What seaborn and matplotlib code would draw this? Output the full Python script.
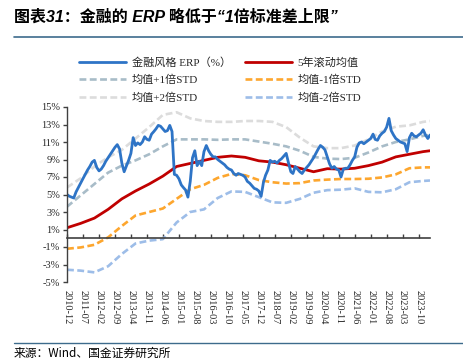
import numpy as np
import pandas as pd
import matplotlib
matplotlib.use("Agg")
import matplotlib.pyplot as plt
import seaborn as sns

# 金融风格 ERP (%)，月度，2010-12 起
erp = [5.0, 4.8, 4.7, 4.6, 5.3, 5.8, 6.3, 6.8, 7.3, 7.8,
       8.2, 8.7, 8.9, 8.1, 7.7, 7.9, 8.3, 8.8, 9.2, 9.6,
       10.0, 10.4, 10.7, 10.2, 8.6, 7.6, 8.3, 8.9, 9.7, 11.5,
       10.6, 10.9, 10.7, 11.0, 11.6, 11.3, 11.2, 11.9, 12.2, 12.5,
       12.9, 12.8, 12.5, 12.2, 12.3, 12.9, 12.2, 7.3, 7.2, 6.8,
       6.1, 5.8, 5.5, 4.7, 6.5, 9.2, 10.0, 8.3, 8.8, 8.3,
       9.9, 10.6, 10.0, 9.6, 9.3, 9.3, 9.0, 8.8, 8.6, 8.4,
       8.1, 7.9, 7.8, 7.4, 7.2, 7.4, 7.3, 7.2, 7.0, 6.5,
       6.3, 6.0, 5.7, 5.6, 5.4, 4.8, 6.4, 7.2, 7.8, 8.9,
       8.7, 8.8, 8.6, 8.9, 9.1, 9.4, 9.7, 8.6, 7.6, 7.4,
       8.2, 7.9, 7.6, 7.4, 7.8, 8.1, 8.4, 8.8, 9.2, 9.7,
       10.2, 10.6, 10.4, 10.1, 9.3, 8.5, 8.0, 8.2, 7.9, 7.8,
       7.0, 7.9, 8.0, 8.0, 8.4, 8.9, 9.3, 10.4, 10.9, 11.0,
       10.8, 11.0, 11.2, 11.4, 11.9, 11.3, 11.2, 11.7, 12.0, 12.2,
       12.7, 13.7, 12.3, 11.8, 11.4, 11.2, 11.0, 10.9, 10.8, 9.9,
       11.5, 12.0, 11.7, 11.6, 11.8, 12.0, 12.4, 11.8, 11.4, 11.8]
erp_dates = pd.date_range("2010-12-01", periods=len(erp), freq="MS")

band_dates = pd.to_datetime([
    "2010-12", "2011-06", "2011-12", "2012-06", "2012-12", "2013-06", "2013-12",
    "2014-06", "2014-12", "2015-06", "2015-12", "2016-06", "2016-12", "2017-06",
    "2017-12", "2018-06", "2018-12", "2019-06", "2019-12", "2020-06", "2020-12",
    "2021-06", "2021-12", "2022-06", "2022-12", "2023-06", "2023-12", "2024-03"])
mean5y = [1.2, 1.7, 2.3, 3.3, 4.5, 5.4, 6.2, 7.1, 8.2, 8.55, 8.9, 9.25, 9.4, 9.25,
          8.85, 8.7, 8.4, 8.0, 7.6, 7.95, 7.9, 8.0, 8.3, 8.7, 9.3, 9.6, 9.9, 10.0]
plus1 = [3.6, 4.9, 6.2, 7.5, 8.3, 8.9, 9.6, 10.5, 11.3, 11.3, 11.3, 11.25, 11.3, 11.3,
         11.05, 10.8, 10.5, 10.0, 9.3, 9.1, 9.05, 9.2, 9.8, 10.5, 11.0, 11.3, 11.7, 11.8]
minus1 = [-1.2, -1.05, -0.75, 0.1, 1.4, 2.6, 3.0, 3.4, 4.5, 5.6, 6.1, 6.9, 7.35, 7.2,
          6.65, 6.4, 6.25, 6.3, 6.6, 6.7, 6.77, 6.77, 6.8, 6.95, 7.3, 8.0, 8.1, 8.1]
plus2 = [5.8, 6.85, 8.2, 9.25, 10.1, 11.4, 12.7, 14.1, 14.4, 13.7, 13.4, 13.3, 13.3, 13.4,
         13.4, 13.3, 12.7, 11.5, 10.5, 10.3, 10.3, 10.6, 11.3, 12.2, 12.75, 12.9, 13.3, 13.4]
minus2 = [-3.6, -3.7, -3.9, -3.2, -1.8, -0.6, -0.27, -0.1, 1.8, 3.0, 3.3, 4.6, 5.35, 5.3,
          4.7, 4.1, 4.05, 4.5, 5.2, 5.5, 5.55, 5.7, 5.3, 5.25, 5.6, 6.4, 6.55, 6.6]

yticks = list(range(-5, 16, 2))
xtick_dates = pd.date_range("2010-12-01", "2023-10-01", freq="7MS")

sns.set_theme(style="white")
serif = ["Liberation Serif", "Noto Sans CJK SC"]
plt.rcParams["font.family"] = serif

fig = plt.figure(figsize=(4.64, 3.63), dpi=100)
ax = fig.add_axes([67 / 464, 1 - 282 / 363, (430 - 67) / 464, (282 - 107) / 363])

dash = (2.6, 1.3)
sns.lineplot(x=band_dates, y=plus2, ax=ax, color="#dcdcdc", lw=1.9,
             label="均值+2倍STD").lines[-1].set_dashes(dash)
sns.lineplot(x=band_dates, y=plus1, ax=ax, color="#a8bcc8", lw=1.9,
             label="均值+1倍STD").lines[-1].set_dashes(dash)
sns.lineplot(x=band_dates, y=minus2, ax=ax, color="#9dbde8", lw=1.9,
             label="均值-2倍STD").lines[-1].set_dashes(dash)
sns.lineplot(x=band_dates, y=minus1, ax=ax, color="#fda62e", lw=1.9,
             label="均值-1倍STD").lines[-1].set_dashes(dash)
sns.lineplot(x=band_dates, y=mean5y, ax=ax, color="#c00000", lw=2.0, label="5年滚动均值")
sns.lineplot(x=erp_dates, y=erp, ax=ax, color="#2e74c6", lw=2.0, label="金融风格 ERP（%）")

ax.set_xlim(erp_dates[0], erp_dates[-1])
ax.set_ylim(-5, 15)
ax.set_yticks(yticks)
ax.set_yticklabels([f"{v}%" for v in yticks])
ax.set_xlabel("")
ax.set_ylabel("")

# zero line carries the tick marks; labels sit at the bottom
for s in ["top", "right"]:
    ax.spines[s].set_visible(False)
ax.spines["left"].set_color("#404040")
ax.spines["left"].set_linewidth(1.0)
ax.spines["bottom"].set_position(("data", 0))
ax.spines["bottom"].set_color("#404040")
ax.spines["bottom"].set_linewidth(1.2)
ax.set_xticks(xtick_dates)
ax.tick_params(axis="x", direction="in", length=3, width=1, color="#404040",
               labelbottom=False, bottom=True)
ax.tick_params(axis="y", direction="out", length=3, width=1, color="#404040",
               labelsize=7.5, pad=2, left=True)
ax.grid(False)

sec = ax.secondary_xaxis("bottom")
sec.set_xticks(ax.get_xticks(), labels=[d.strftime("%Y-%m") for d in xtick_dates])
sec.tick_params(length=0, pad=6, labelsize=7.5)
for s in sec.spines.values():
    s.set_visible(False)
for lab in sec.get_xticklabels():
    lab.set_rotation(-90)
    lab.set_va("top")
    lab.set_ha("center")

handles, labels = ax.get_legend_handles_labels()
order = ["金融风格 ERP（%）", "均值+1倍STD", "均值+2倍STD",
         "5年滚动均值", "均值-1倍STD", "均值-2倍STD"]
hmap = dict(zip(labels, handles))
ax.legend([hmap[k] for k in order], order, ncol=2, frameon=False,
          loc="upper left", bbox_to_anchor=(75 / 464, 1 - 53 / 363),
          bbox_transform=fig.transFigure, fontsize=8, handlelength=4.2,
          handletextpad=0.5, columnspacing=1.3, labelspacing=0.62, borderaxespad=0)

fig.text(14 / 464, 1 - 17 / 363, "图表31：金融的 ERP 略低于“1倍标准差上限”",
         fontsize=11.5, fontweight="bold", style="italic", va="center", ha="left",
         color="black", family=["Liberation Sans", "Noto Sans CJK SC"])
fig.add_artist(plt.Line2D([14 / 464, 1], [1 - 37 / 363] * 2, transform=fig.transFigure,
                          color="#3d6b8c", lw=1.2))
fig.add_artist(plt.Line2D([14 / 464, 1], [1 - 343 / 363] * 2, transform=fig.transFigure,
                          color="#3d6b8c", lw=1.0))
fig.text(14 / 464, 1 - 353 / 363, "来源：Wind、国金证券研究所", fontsize=8.5,
         va="center", ha="left", color="black", family=["Noto Sans CJK SC"])

fig.savefig("out.png", dpi=100, facecolor="white")
